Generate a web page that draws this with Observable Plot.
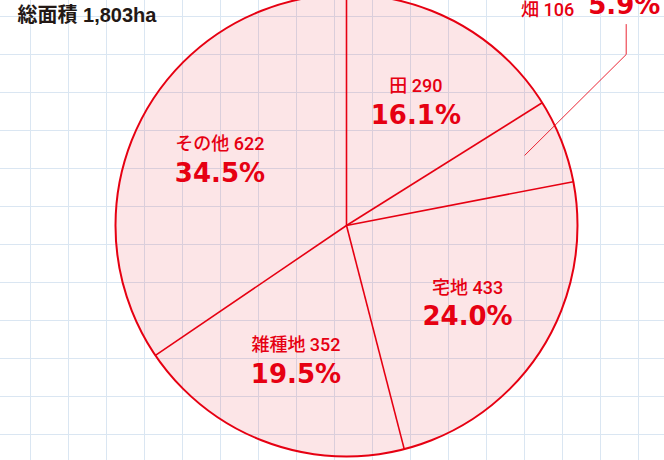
<!DOCTYPE html>
<html>
<head>
<meta charset="utf-8">
<script src="https://cdn.jsdelivr.net/npm/d3@7"></script>
<script src="https://cdn.jsdelivr.net/npm/@observablehq/plot@0.6"></script>
<style>
  body { margin: 0; }
  #chart {
    width: 664px; height: 460px; overflow: hidden;
    background-color: #ffffff;
    background-image:
      linear-gradient(to right, #dae6f2 1px, transparent 1px),
      linear-gradient(to bottom, #dae6f2 1px, transparent 1px);
    background-size: 38px 38px;
    background-position: 30px 16px;
  }
</style>
</head>
<body>
<div id="chart"></div>
<script>
// ---- data (clockwise from 12 o'clock) ----
const names = ["田", "畑", "宅地", "雑種地", "その他"];
const areas = [290, 106, 433, 352, 622];
const titleText = "総面積 1,803ha";
const calloutName = "畑"; // small slice labelled outside with a leader line

// ---- layout ----
const W = 664, H = 460, cx = 346, cy = 225, Rpx = 231;
const red = "#e60012";
const total = d3.sum(areas);

let acc = 0;
const slices = names.map((name, i) => {
  const a0 = acc / total * 2 * Math.PI;
  acc += areas[i];
  const a1 = acc / total * 2 * Math.PI;
  const mid = (a0 + a1) / 2;
  return {name, value: areas[i], a0, a1, mid,
          pct: (areas[i] / total * 100).toFixed(1) + "%"};
});
const inside = slices.filter(d => d.name !== calloutName);
const callout = slices.filter(d => d.name === calloutName);

const LR = 0.62; // label radius (fraction of pie radius)
const px = d => (d - cx) / Rpx, py = d => (cy - d) / Rpx; // pixel -> unit helpers for annotation anchor
const cX = px(625.7), elbowY = py(54), topY = py(24);
const c = callout[0];
const leader = [
  {x: 0.83 * Math.sin(c.mid), y: 0.83 * Math.cos(c.mid)},
  {x: cX, y: elbowY},
  {x: cX, y: topY}
];

const nameFont = "Roboto, 'Noto Sans CJK JP', sans-serif";
const titleFont = "'Liberation Sans', 'Noto Sans CJK JP', sans-serif";
const pctFont = "'DejaVu Sans', sans-serif";

const chart = Plot.plot({
  width: W, height: H,
  margin: 0,
  style: {background: "transparent"},
  x: {domain: [-cx / Rpx, (W - cx) / Rpx], range: [0, W], axis: null},
  y: {domain: [-(H - cy) / Rpx, cy / Rpx], range: [H, 0], axis: null},
  marks: [
    Plot.dot([{x: 0, y: 0}], {x: "x", y: "y", r: Rpx, fill: red, fillOpacity: 0.1, stroke: red, strokeWidth: 2}),
    Plot.link(slices, {x1: 0, y1: 0, x2: d => Math.sin(d.a0), y2: d => Math.cos(d.a0), stroke: red, strokeWidth: 1.6}),
    Plot.text(inside, {x: d => LR * Math.sin(d.mid), y: d => LR * Math.cos(d.mid),
      text: d => `${d.name} ${d.value}`, dy: -14, fontSize: 18, fontWeight: 500, fill: red, fontFamily: nameFont}),
    Plot.text(inside, {x: d => LR * Math.sin(d.mid), y: d => LR * Math.cos(d.mid),
      text: d => d.pct, dy: 15, fontSize: 26, fontWeight: "bold", fill: red, fontFamily: pctFont}),
    Plot.line(leader, {x: "x", y: "y", stroke: red, strokeWidth: 1, strokeOpacity: 0.85}),
    Plot.text(callout, {x: cX, y: topY, text: d => `${d.name} ${d.value}`, textAnchor: "end",
      dx: -52, dy: -14, fontSize: 18, fontWeight: 500, fill: red, fontFamily: nameFont}),
    Plot.text(callout, {x: cX, y: topY, text: d => d.pct, textAnchor: "start",
      dx: -38, dy: -19, fontSize: 26, fontWeight: "bold", fill: red, fontFamily: pctFont}),
    Plot.text([titleText], {frameAnchor: "top-left", text: d => d, textAnchor: "start", lineAnchor: "top",
      dx: 17, dy: 7, fontSize: 20, fontWeight: "bold", fill: "#231815", fontFamily: titleFont})
  ]
});
document.getElementById("chart").appendChild(chart);
</script>
</body>
</html>
